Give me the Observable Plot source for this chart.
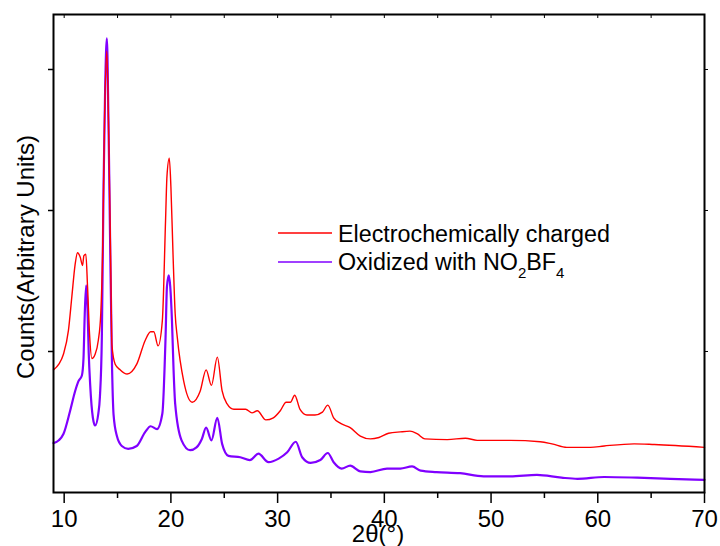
<!DOCTYPE html>
<html><head><meta charset="utf-8">
<script src="https://cdn.jsdelivr.net/npm/d3@7"></script>
<script src="https://cdn.jsdelivr.net/npm/@observablehq/plot@0.6"></script>
<style>
body{margin:0;background:#fff;}
#chart{position:relative;width:720px;height:546px;}
</style>
</head><body><div id="chart"></div>
<script>
const twoThetaRed = [9.0,9.5,9.93,10.4,10.72,11.03,11.25,11.5,11.72,11.85,12.03,12.19,12.38,12.6,12.9,13.2,13.43,13.6,13.78,14.0,14.15,14.37,14.47,14.78,15.25,15.9,16.8,17.6,18.1,18.4,18.8,19.2,19.5,19.63,19.85,20.0,20.2,20.4,20.6,21.2,22.0,22.75,23.3,23.8,24.35,24.8,25.25,25.9,27.0,27.6,28.1,28.9,29.6,30.25,30.8,31.2,31.6,32.1,32.75,33.5,34.2,34.7,35.25,35.9,36.8,37.75,38.7,39.5,40.4,41.5,42.4,43.1,43.8,45.9,47.6,48.7,51.8,54.6,55.7,57.1,59.3,60.6,63.4,65.3,70];
const countsRed = [0.87,0.91,0.98,1.15,1.39,1.62,1.70,1.67,1.61,1.68,1.69,1.46,1.12,0.95,0.98,1.08,1.27,1.70,2.64,3.13,2.64,1.57,1.05,0.91,0.87,0.84,0.91,1.08,1.14,1.14,1.04,1.22,1.93,2.24,2.37,2.17,1.69,1.27,1.10,0.79,0.64,0.72,0.87,0.76,0.96,0.72,0.63,0.59,0.59,0.565,0.58,0.515,0.53,0.58,0.64,0.64,0.69,0.59,0.55,0.55,0.57,0.62,0.53,0.49,0.46,0.40,0.38,0.39,0.42,0.43,0.435,0.415,0.38,0.375,0.385,0.37,0.37,0.36,0.345,0.32,0.32,0.33,0.345,0.34,0.32];
const twoThetaPurple = [9.0,9.5,9.93,10.56,11.03,11.34,11.66,11.81,11.93,12.06,12.19,12.3,12.44,12.69,12.9,13.2,13.35,13.53,13.69,13.84,14.0,14.15,14.3,14.47,14.63,14.94,15.4,16.0,16.8,17.6,18.1,18.7,19.2,19.5,19.63,19.8,19.94,20.1,20.25,20.4,21.0,21.8,22.4,22.9,23.3,23.8,24.35,24.8,25.4,26.5,27.4,28.2,29.15,30.1,30.9,31.7,32.3,33.1,34.0,34.7,35.25,36.0,36.8,37.75,38.7,40.25,41.5,42.6,43.4,44.9,47.1,49.3,51.8,54.3,56.6,58.1,60.6,63.7,66.8,70];
const countsPurple = [0.35,0.37,0.415,0.58,0.72,0.79,0.83,0.95,1.27,1.47,1.30,0.99,0.76,0.53,0.475,0.56,0.68,1.10,2.17,2.87,3.22,2.64,1.81,0.95,0.55,0.40,0.33,0.31,0.33,0.43,0.47,0.45,0.56,1.10,1.46,1.54,1.46,1.22,0.87,0.63,0.37,0.30,0.32,0.38,0.46,0.37,0.53,0.345,0.26,0.25,0.23,0.275,0.215,0.24,0.285,0.36,0.25,0.21,0.23,0.28,0.215,0.17,0.19,0.15,0.145,0.17,0.17,0.185,0.155,0.145,0.137,0.115,0.115,0.125,0.105,0.097,0.11,0.105,0.097,0.09];
const xTicks = [10,20,30,40,50,60,70];
const xMinorTicks = [15,25,35,45,55,65];
const yTicks = [1,2,3];
const seriesNames = ["Electrochemically charged", "Oxidized with NO"];
const seriesColors = ["#ff0000", "#8000ff"];
const xTitle = "2θ(°)";
const yTitle = "Counts(Arbitrary Units)";

const red = twoThetaRed.map((x, i) => ({x, y: countsRed[i]}));
const purple = twoThetaPurple.map((x, i) => ({x, y: countsPurple[i]}));

const FONT = "'Liberation Sans', Arial, sans-serif";
const W = 720, H = 546;
const chart = Plot.plot({
  width: W, height: H,
  marginLeft: 53, marginRight: 16, marginTop: 14, marginBottom: 54,
  style: {fontFamily: FONT, fontSize: "24px", color: "#000", background: "#fff"},
  x: {domain: [9, 70]},
  y: {domain: [0, 3.39]},
  marks: [
    Plot.axisX({anchor: "bottom", ticks: xTicks, tickSize: 11, tickPadding: 6, tickFormat: d => String(d), label: null, strokeWidth: 1.5}),
    Plot.axisX({anchor: "bottom", ticks: xMinorTicks, tickSize: 6, text: null, label: null, strokeWidth: 1.5}),
    Plot.axisX({anchor: "top", ticks: xTicks.concat(xMinorTicks), tickSize: 3, dy: 3, text: null, label: null}),
    Plot.axisY({anchor: "left", ticks: yTicks, tickSize: 5, text: null, label: null, strokeWidth: 1.5}),
    Plot.axisY({anchor: "right", ticks: yTicks, tickSize: 3, text: null, label: null}),
    Plot.line(purple, {x: "x", y: "y", stroke: seriesColors[1], strokeWidth: 2.2, curve: "monotone-x"}),
    Plot.line(red, {x: "x", y: "y", stroke: seriesColors[0], strokeWidth: 1.4, curve: "monotone-x"}),
    Plot.frame({stroke: "#000", strokeWidth: 2})
  ]
});
document.getElementById("chart").appendChild(chart);

const svg = d3.select(chart);
svg.append("text").attr("x", 378).attr("y", 542).attr("text-anchor", "middle")
  .style("font-family", FONT).style("font-size", "24px").attr("fill", "#000").text(xTitle);
svg.append("text").attr("transform", "translate(34,257) rotate(-90)").attr("text-anchor", "middle")
  .style("font-family", FONT).style("font-size", "24px").attr("fill", "#000").text(yTitle);

const lg = svg.append("g").style("font-family", FONT).attr("fill", "#000").attr("text-anchor", "start");
lg.append("line").attr("x1", 278).attr("x2", 332).attr("y1", 233).attr("y2", 233).attr("stroke", seriesColors[0]).attr("stroke-width", 1.3);
lg.append("line").attr("x1", 278).attr("x2", 332).attr("y1", 262).attr("y2", 262).attr("stroke", seriesColors[1]).attr("stroke-width", 1.3);
lg.append("text").attr("x", 338).attr("y", 242).attr("text-anchor", "start").style("font-size", "23.3px").text(seriesNames[0]);
const t2 = lg.append("text").attr("x", 338).attr("y", 270).attr("text-anchor", "start").style("font-size", "23.3px");
t2.append("tspan").text(seriesNames[1]);
t2.append("tspan").attr("dy", 8).style("font-size", "15px").text("2");
t2.append("tspan").attr("dy", -8).text("BF");
t2.append("tspan").attr("dy", 8).style("font-size", "15px").text("4");
</script>
</body></html>
